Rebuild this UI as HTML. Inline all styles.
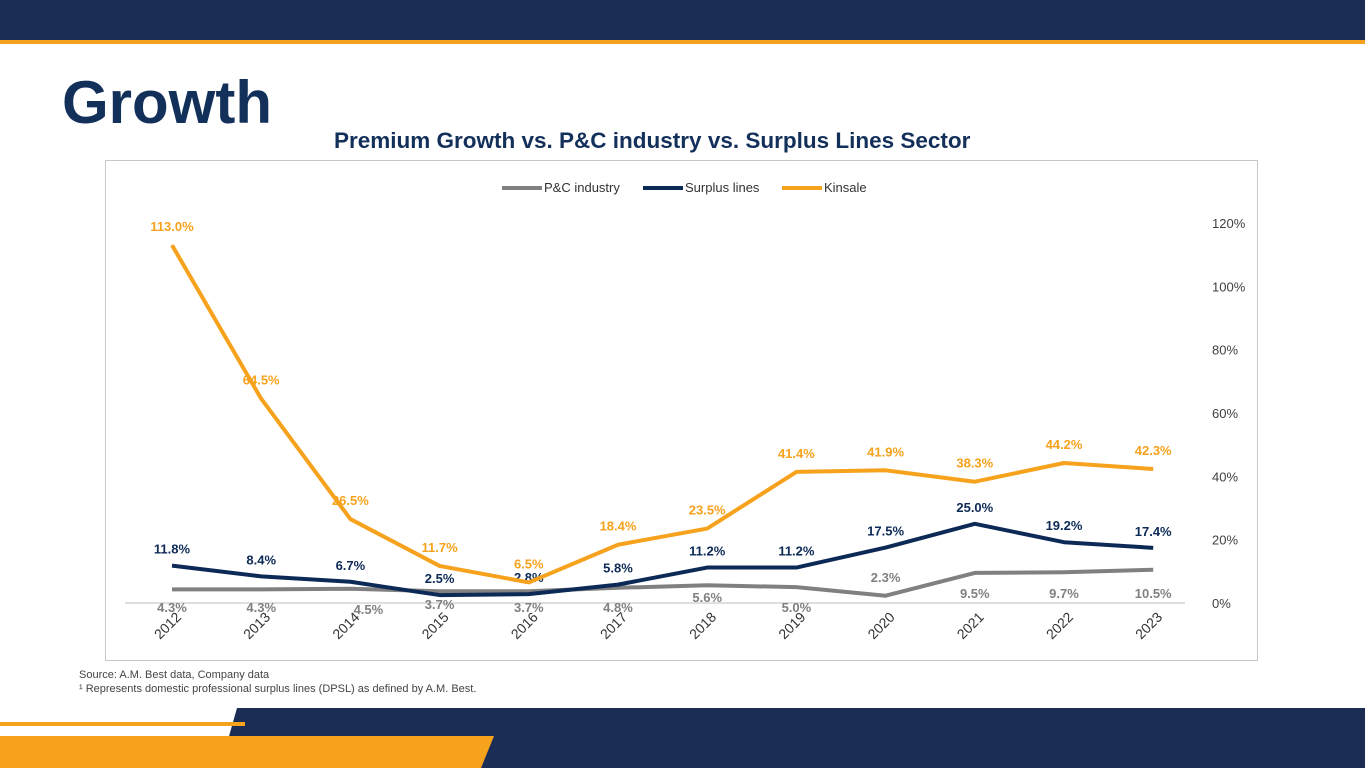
<!DOCTYPE html>
<html><head><meta charset="utf-8"><style>
body{margin:0;width:1365px;height:768px;overflow:hidden;background:#fff;font-family:"Liberation Sans",sans-serif;position:relative}
.abs{position:absolute}
</style></head><body>
<div class="abs" style="left:0;top:0;width:1365px;height:40px;background:#1b2d55"></div>
<div class="abs" style="left:0;top:40px;width:1365px;height:4px;background:#f6a21d"></div>
<div class="abs" style="left:62px;top:68px;font-size:60px;font-weight:bold;color:#13305a">Growth</div>
<div class="abs" style="left:334px;top:128px;font-size:22.5px;font-weight:bold;color:#13305a">Premium Growth vs. P&amp;C industry vs. Surplus Lines Sector</div>
<svg class="abs" style="left:0;top:0" width="1365" height="768">
<rect x="105.5" y="160.5" width="1152" height="500" fill="none" stroke="#c8c8c8"/>
<g id="g"></g>
<polygon points="237,708 1365,708 1365,768 220,768" fill="#1b2d55"/>
<rect x="0" y="722" width="245" height="4" fill="#f6a21d"/>
<polygon points="0,736 494,736 481,768 0,768" fill="#f6a21d"/>
</svg>
<div class="abs" style="left:79px;top:668px;font-size:11px;color:#444;line-height:14px">Source: A.M. Best data, Company data<br>¹ Represents domestic professional surplus lines (DPSL) as defined by A.M. Best.</div>
<script>
const years=["2012","2013","2014","2015","2016","2017","2018","2019","2020","2021","2022","2023"];
const pc=[4.3,4.3,4.5,3.7,3.7,4.8,5.6,5.0,2.3,9.5,9.7,10.5];
const sl=[11.8,8.4,6.7,2.5,2.8,5.8,11.2,11.2,17.5,25.0,19.2,17.4];
const ks=[113.0,64.5,26.5,11.7,6.5,18.4,23.5,41.4,41.9,38.3,44.2,42.3];
const ticks=[0,20,40,60,80,100,120];
const NS="http://www.w3.org/2000/svg";
const g=document.getElementById('g');
const X=i=>172+i*89.2, Y=v=>603-v*3.167;
function mk(t,a){const e=document.createElementNS(NS,t);for(const k in a)e.setAttribute(k,a[k]);g.appendChild(e);return e;}
const ax=mk('line',{x1:125,x2:1185,y1:603,y2:603,stroke:'#bfbfbf'});


ticks.forEach(t=>{const e=mk('text',{x:1212,y:Y(t)+5,'font-size':13,fill:'#404040','font-family':'Liberation Sans, sans-serif'});e.textContent=t+'%';

});
years.forEach((y,i)=>{const x=X(i)+10,yy=618;const e=mk('text',{x:x,y:yy,'font-size':14,fill:'#333','text-anchor':'end',transform:`rotate(-45 ${x} ${yy})`,'font-family':'Liberation Sans, sans-serif'});e.textContent=y;

});
const series=[[pc,'#808080','pc-industry-line',(i)=>Y(pc[i])+17],[sl,'#0d2a57','surplus-lines-line',(i)=>Y(sl[i])-12],[ks,'#f6a21d','kinsale-line',(i)=>Y(ks[i])-14]];
const pcLabY=[612,612,614,609,612,612,602,612,582,598,598,598];
series.forEach(([d,c,n,ly],si)=>{
const p=mk('polyline',{points:d.map((v,i)=>X(i)+','+Y(v)).join(' '),fill:'none',stroke:c,'stroke-width':4,'stroke-linejoin':'round'});


d.forEach((v,i)=>{let x=X(i),y=si==0?pcLabY[i]:ly(i);if(si==0&&i==2)x+=18;
const t=mk('text',{x:x,y:y,'font-size':13,'font-weight':'bold',fill:c,'text-anchor':'middle','font-family':'Liberation Sans, sans-serif'});t.textContent=v.toFixed(1)+'%';

});});
const leg=[['P&C industry','#808080',502],['Surplus lines','#0d2a57',643],['Kinsale','#f6a21d',782]];
leg.forEach(([l,c,x])=>{const ln=mk('line',{x1:x,x2:x+40,y1:188,y2:188,stroke:c,'stroke-width':4});


const t=mk('text',{x:x+42,y:192,'font-size':13,fill:'#333','font-family':'Liberation Sans, sans-serif'});t.textContent=l;

});
</script>
</body></html>
